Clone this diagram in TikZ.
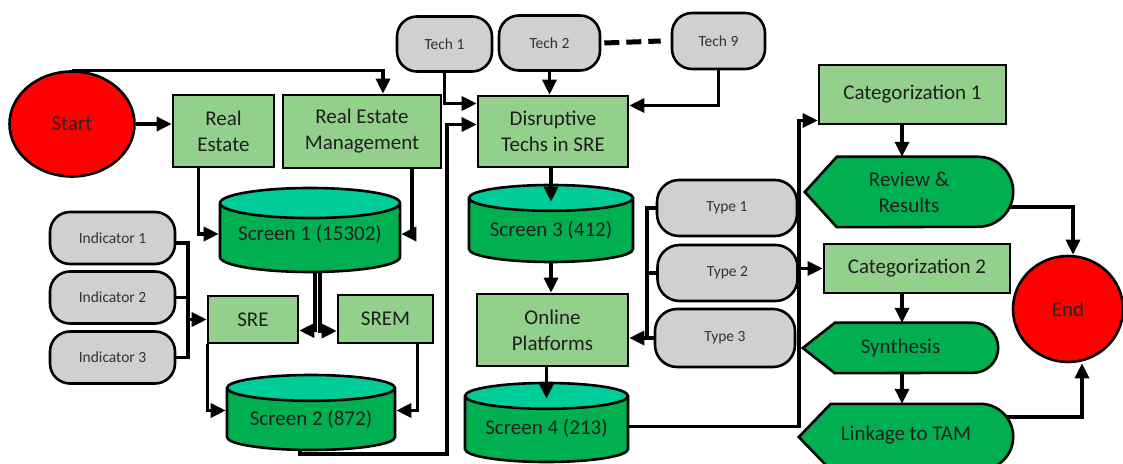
\documentclass[tikz,border=0pt]{standalone}
\usepackage{fontspec}
\setmainfont{Carlito}
\usetikzlibrary{shapes.geometric,arrows.meta,backgrounds}

\definecolor{boxgreen}{RGB}{146,208,140}
\definecolor{dbgreen}{RGB}{0,176,80}
\definecolor{capgreen}{RGB}{0,204,153}
\definecolor{pillgrey}{RGB}{208,208,208}
\definecolor{txtgrey}{RGB}{51,51,51}

% outline of a display shape behind node #1, round end of radius #2
\newcommand{\dispback}[2]{%
  \begin{pgfonlayer}{background}
    \draw[displine] (#1.west) -- ([xshift=32pt]#1.north west) -- ([xshift=-#2]#1.north east)
      arc[start angle=90, end angle=-90, radius=#2] -- ([xshift=32pt]#1.south west) -- cycle;
  \end{pgfonlayer}}
% label of a screen, lifted a little inside its cylinder
\newcommand{\lift}[2]{\raisebox{#1}[\height][\depth]{#2}}

\begin{document}
\begin{tikzpicture}[x=1pt, y=1pt,
        font=\fontsize{21}{26}\selectfont,
        conn/.style={line width=3.3pt},
        arr/.style={conn, -{Triangle[length=15pt,width=14pt]}},
        procbox/.style={draw, line width=2.6pt, fill=boxgreen, align=center, text=black!88},
        pill/.style={draw, line width=2.6pt, fill=pillgrey, rounded corners=20pt,
                font=\fontsize{15.5}{18}\selectfont, text=txtgrey},
        screen/.style={cylinder, shape border rotate=90, draw, line width=2.6pt,
                cylinder uses custom fill, cylinder body fill=dbgreen, cylinder end fill=capgreen,
                aspect=0.2, anchor=shape center, text=black!88},
        terminal/.style={ellipse, draw, line width=2.6pt, fill=red, text=black!85},
        disp/.style={align=center, text=black!88},
        displine/.style={draw, line width=2.6pt, fill=dbgreen}]

        \useasboundingbox (0,0) rectangle (1123,463);

        % left part
        \node[terminal, minimum width=125pt, minimum height=105pt] (start) at (72,339) {Start};
        \node[procbox, minimum width=101pt, minimum height=72pt] (re) at (223.5,332) {Real\\Estate};
        \node[procbox, minimum width=158pt, minimum height=73pt] (rem) at (362,331.5) {Real Estate\\Management};
        \node[screen, minimum width=180pt, minimum height=84pt] (s1) at (310,233) {\lift{6pt}{Screen 1 (15302)}};
        \node[pill, minimum width=125pt, minimum height=52pt] (ind1) at (112.5,225) {Indicator 1};
        \node[pill, minimum width=125pt, minimum height=52pt] (ind2) at (112.5,165.5) {Indicator 2};
        \node[pill, minimum width=125pt, minimum height=52pt] (ind3) at (112.5,105.5) {Indicator 3};
        \node[procbox, minimum width=90pt, minimum height=47pt] (sre) at (253,143.5) {SRE};
        \node[procbox, minimum width=95pt, minimum height=48pt] (srem) at (385.5,144) {SREM};
        \node[screen, minimum width=168pt, minimum height=75pt] (s2) at (311,50.5) {\lift{2pt}{Screen 2 (872)}};

        % middle part
        \node[pill, minimum width=95pt, minimum height=55pt] (tech1) at (444.5,419) {Tech 1};
        \node[pill, minimum width=101pt, minimum height=55pt] (tech2) at (549.5,420) {Tech 2};
        \node[pill, minimum width=93pt, minimum height=56pt] (tech9) at (718.5,422) {Tech 9};
        \node[procbox, minimum width=150pt, minimum height=71pt] (dt) at (553,331.5) {Disruptive\\Techs in SRE};
        \node[screen, minimum width=164pt, minimum height=77pt] (s3) at (551,239.5) {\lift{2pt}{Screen 3 (412)}};
        \node[procbox, minimum width=151pt, minimum height=72pt] (op) at (552.5,133) {Online\\Platforms};
        \node[screen, minimum width=163pt, minimum height=79pt] (s4) at (546.5,40.5) {\lift{3pt}{Screen 4 (213)}};
        \node[pill, rounded corners=22pt, minimum width=140pt, minimum height=56pt] (type1) at (727,255) {Type 1};
        \node[pill, rounded corners=22pt, minimum width=140pt, minimum height=56pt] (type2) at (727.5,190) {Type 2};
        \node[pill, rounded corners=22pt, minimum width=140pt, minimum height=58pt] (type3) at (725,125) {Type 3};

        % right part
        \node[procbox, minimum width=187pt, minimum height=59pt] (cat1) at (912.5,368.5) {Categorization 1};
        \node[disp, minimum width=208pt, minimum height=70pt] (rev) at (909,271) {Review \&\\Results};
        \dispback{rev}{35pt}
        \node[procbox, minimum width=186pt, minimum height=49pt] (cat2) at (917,194.5) {Categorization 2};
        \node[disp, minimum width=195pt, minimum height=50pt] (syn) at (900.5,115) {Synthesis};
        \dispback{syn}{25pt}
        \node[disp, minimum width=214pt, minimum height=66pt] (link) at (906,26) {\raisebox{8pt}{Linkage to TAM}};
        \dispback{link}{33pt}
        \node[terminal, minimum width=110pt, minimum height=106pt] (finish) at (1068,154) {End};

        % connectors, left
        \draw[arr] (start.east) -- (start.east -| re.west);
        \draw[arr] (start.north) -| ([xshift=21pt]rem.north);
        \coordinate (s1in) at ([yshift=-4pt]s1.shape center);
        \draw[arr] ([xshift=-25pt]re.south) |- (s1in -| s1.west);
        \draw[arr] ([xshift=50pt]rem.south) |- (s1in -| s1.east);
        \draw[arr] ([xshift=5pt]s1.south) |- ([yshift=-11pt]sre.east);
        \draw[arr] ([xshift=10pt]s1.south) |- ([yshift=-12pt]srem.west);

        \coordinate (ibus) at (188,0);
        \draw[conn] ([yshift=-5pt]ind1.east) -| (ibus |- ind3.east) -- (ind3.east);
        \draw[conn] (ind2.east) -- (ibus |- ind2.east);
        \draw[arr] (ibus |- sre.west) -- (sre.west);

        \coordinate (s2in) at ([yshift=2pt]s2.shape center);
        \draw[arr] ([xshift=1pt]sre.south west) |- (s2in -| s2.west);
        \draw[arr] ([xshift=32pt]srem.south) |- (s2in -| s2.east);

        \coordinate (s2dt) at (447,9);
        \draw[arr] ([xshift=-11pt]s2.south) |- (s2dt) |- ([yshift=7pt]dt.west);

        % connectors, middle
        \draw[arr] (tech1.south) |- ([yshift=28pt]dt.west);
        \draw[arr] (tech2.south) -- (tech2.south |- dt.north);
        \draw[arr] (tech9.south) |- ([yshift=26pt]dt.east);
        \draw[line width=5pt, dash pattern=on 15pt off 7pt] ([xshift=3pt]tech2.east) -- ([xshift=-10pt]tech9.west);

        \coordinate (s3in) at ([yshift=-18pt]s3.north);
        \draw[arr] (s3in |- dt.south) -- (s3in);
        \draw[arr] (s3.south) -- (s3.south |- op.north);
        \coordinate (s4in) at ([yshift=-17pt]s4.north);
        \draw[arr] (s4in |- op.south) -- (s4in);

        \coordinate (tbus) at (647,0);
        \draw[conn] (type1.west) -| (tbus |- type3.west) -- (type3.west);
        \draw[conn] (type2.west) -- (tbus |- type2.west);
        \draw[arr] (tbus |- type3.west) -- (op.east |- type3.west);

        % connectors, right
        \coordinate (cbus) at (799,0);
        \coordinate (s4out) at ([yshift=-4pt]s4.shape center);
        \coordinate (c1in) at ([yshift=-26pt]cat1.west);
        \draw[arr] (s4out -| s4.east) -| (cbus |- c1in) -- (c1in);
        \draw[arr] (cbus |- cat2.west) -- (cat2.west);

        \coordinate (rvin) at ([xshift=-7pt]rev.north);
        \draw[arr] (rvin |- cat1.south) -- (rvin);
        \coordinate (syin) at ([xshift=1.5pt]syn.north);
        \draw[arr] (syin |- cat2.south) -- (syin);
        \coordinate (lkin) at ([xshift=-4pt]link.north);
        \draw[arr] (lkin |- syn.south) -- (lkin);
        \draw[arr] ([xshift=-4pt,yshift=-15pt]rev.east) -| ([xshift=5pt]finish.north);
        \draw[arr] ([xshift=-7pt,yshift=20pt]link.east) -| ([xshift=14pt]finish.south);

\end{tikzpicture}
\end{document}
